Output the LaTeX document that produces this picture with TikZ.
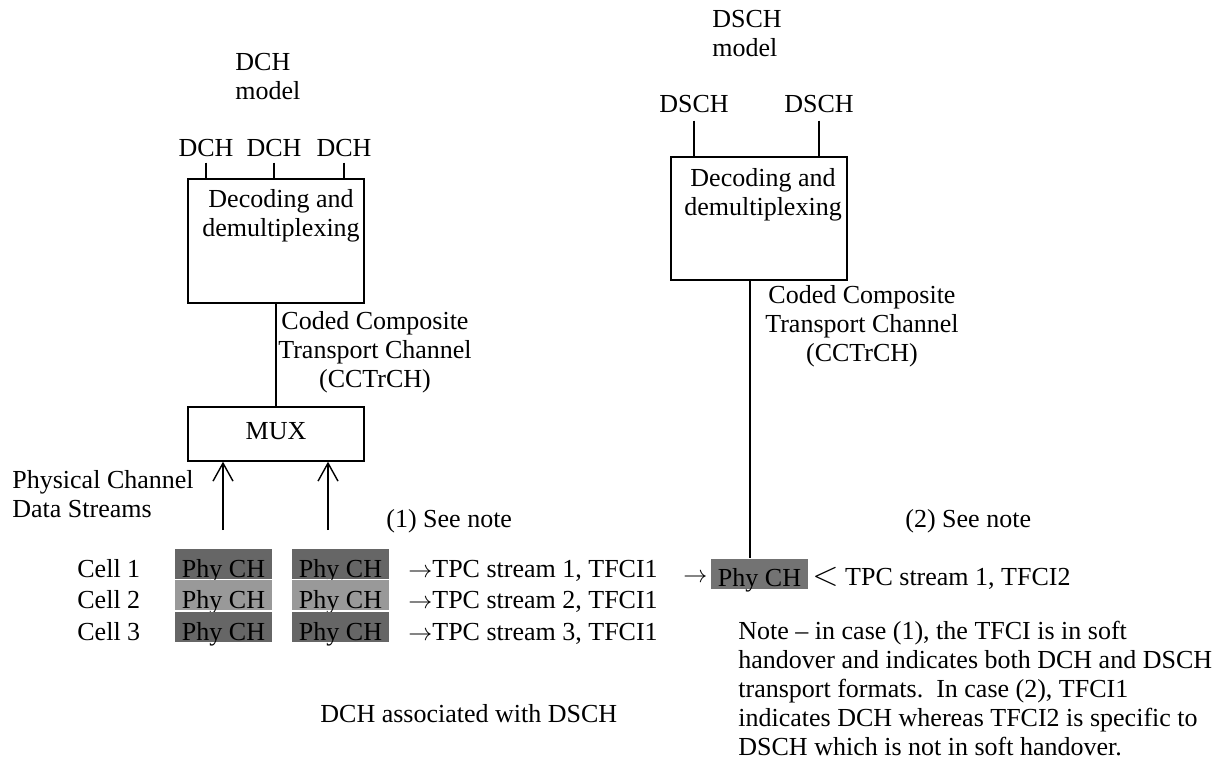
\documentclass[tikz,border=0pt]{standalone}
\usepackage{fontspec}
\setmainfont{Liberation Serif}
\usetikzlibrary{arrows.meta, positioning}

\definecolor{phydark}{gray}{0.40}
\definecolor{phylight}{gray}{0.60}
\definecolor{phydsch}{gray}{0.45}

\begin{document}
\begin{tikzpicture}[x=0.5pt, y=-0.5pt,
	font=\fontsize{13}{14.5}\selectfont,
	block/.style={rectangle, draw, line width=0.7pt, minimum width=88pt, inner sep=0pt},
	phy/.style={rectangle, inner sep=0pt, minimum width=48.5pt, minimum height=15pt, text height=13pt, text depth=0pt},
	txt/.style={inner sep=0pt, anchor=base west, align=left},
	ctxt/.style={inner sep=0pt, anchor=base, align=center},
	wire/.style={line width=0.7pt},
	up/.style={line width=0.7pt, -{Straight Barb[length=9pt, width=10pt]}}]

\useasboundingbox (0,0) rectangle (1225,774);

% DCH side (multi-line texts sit on their last line)
\node[txt] (dchtitle) at (235,100) {DCH\\model};
\node[ctxt] (dch1) at (206,157) {DCH};
\node[ctxt] (dch2) at (274,157) {DCH};
\node[ctxt] (dch3) at (344,157) {DCH};
\node[block, minimum height=62pt] (dchbox) at (276,241) {};
\node[ctxt] (dchtxt) at (281,237) {Decoding and\\demultiplexing};
\node[ctxt] (cctA) at (375,388) {Coded Composite\\Transport Channel\\(CCTrCH)};
\node[block, minimum height=27pt, text depth=3pt] (mux) at (276,434) {MUX};
\node[txt] (pcds) at (12,517) {Physical Channel\\Data Streams};
\node[txt] (note1) at (386,527) {(1) See note};

% Cells
\node[txt] (cell1) at (77,577) {Cell 1};
\node[txt] (cell2) at (77,608) {Cell 2};
\node[txt] (cell3) at (77,640) {Cell 3};
\node[phy, fill=phydark] (p11) at (223.5,564) {Phy CH};
\node[phy, fill=phydark] (p12) at (340.5,564) {Phy CH};
\node[phy, fill=phylight] (p21) at (223.5,595) {Phy CH};
\node[phy, fill=phylight] (p22) at (340.5,595) {Phy CH};
\node[phy, fill=phydark] (p31) at (223.5,627) {Phy CH};
\node[phy, fill=phydark] (p32) at (340.5,627) {Phy CH};
\node[txt] (tpc1) at (408,577) {$\rightarrow$TPC stream 1, TFCI1};
\node[txt] (tpc2) at (408,608) {$\rightarrow$TPC stream 2, TFCI1};
\node[txt] (tpc3) at (408,640) {$\rightarrow$TPC stream 3, TFCI1};
\node[txt] (assoc) at (320,722) {DCH associated with DSCH};

% DSCH side
\node[txt] (dschtitle) at (712,57) {DSCH\\model};
\node[ctxt] (dsch1) at (694,113) {DSCH};
\node[ctxt] (dsch2) at (819,113) {DSCH};
\node[block, minimum height=61.5pt] (dschbox) at (759,218.5) {};
\node[ctxt] (dschtxt) at (763,216) {Decoding and\\demultiplexing};
\node[ctxt] (cctB) at (862,362) {Coded Composite\\Transport Channel\\(CCTrCH)};
\node[txt] (note2) at (905,527) {(2) See note};
\node[txt] (arr) at (683,582) {$\rightarrow$};
\node[phy, fill=phydsch] (pdsch) at (759.5,573.5) {Phy CH};
\node[txt] (tpcd) at (812,585) {{\fontsize{17}{17}\selectfont$<$}\ TPC stream 1, TFCI2};
\node[txt] (note) at (738,755) {Note – in case (1), the TFCI is in soft\\handover and indicates both DCH and DSCH\\transport formats.\ \ In case (2), TFCI1\\indicates DCH whereas TFCI2 is specific to\\DSCH which is not in soft handover.};

\coordinate (s1) at (223,530);
\coordinate (s2) at (328,530);

% Connections
\draw[wire] ([yshift=-2.5pt]dch1.south) -- (dch1.south |- dchbox.north);
\draw[wire] ([yshift=-2.5pt]dch2.south) -- (dch2.south |- dchbox.north);
\draw[wire] ([yshift=-2.5pt]dch3.south) -- (dch3.south |- dchbox.north);
\draw[wire] (dchbox.south) -- (mux.north);
\draw[up] (s1) -- (s1 |- mux.south);
\draw[up] (s2) -- (s2 |- mux.south);
\draw[wire] ([yshift=-3.5pt]dsch1.south) -- (dsch1.south |- dschbox.north);
\draw[wire] ([yshift=-3.5pt]dsch2.south) -- (dsch2.south |- dschbox.north);
\draw[wire] ([xshift=-4.5pt]dschbox.south) -- ([xshift=-4.5pt]dschbox.south |- pdsch.north);
\end{tikzpicture}
\end{document}
